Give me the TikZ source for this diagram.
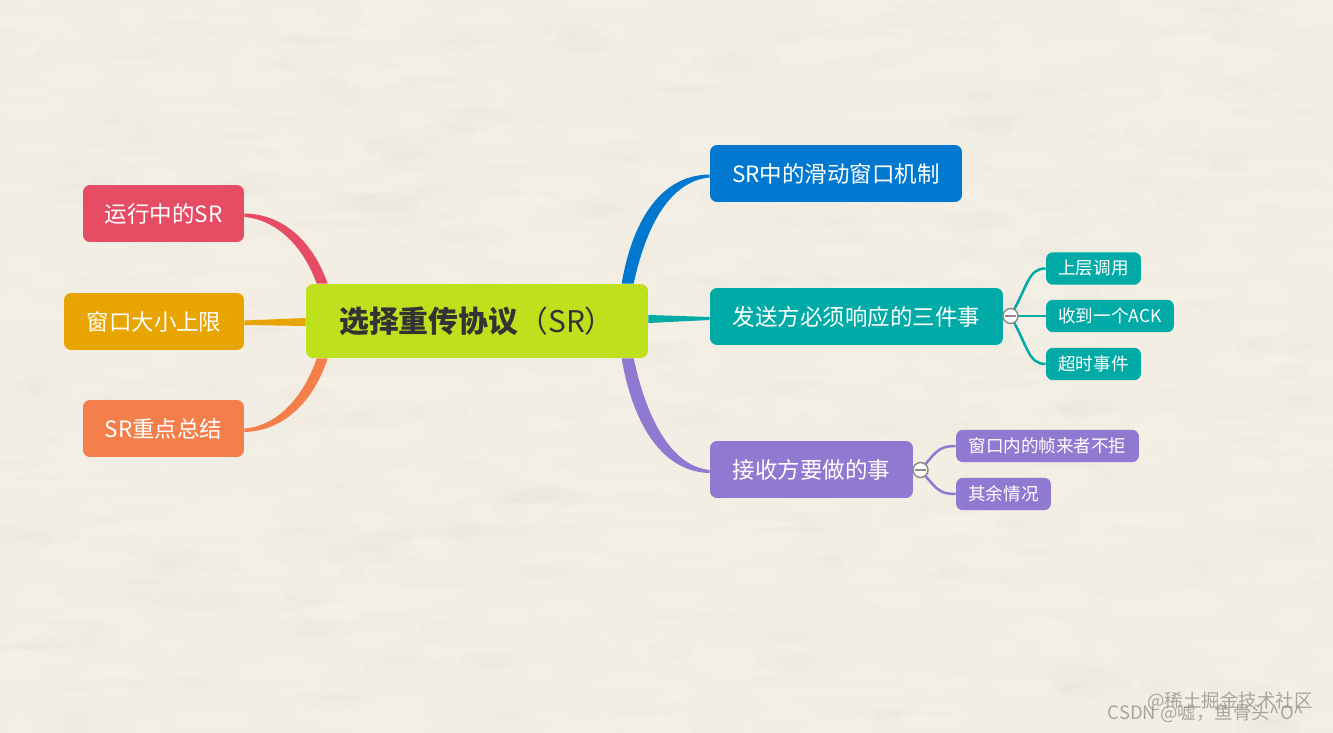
\documentclass[tikz,border=0pt]{standalone}
\usepackage{fontspec}
\setmainfont{Noto Sans CJK SC}
\usetikzlibrary{calc}
\definecolor{paper}{HTML}{F3EEE3}
\definecolor{rootgreen}{HTML}{BFE01C}
\definecolor{blueb}{HTML}{0078D0}
\definecolor{tealb}{HTML}{00AAA6}
\definecolor{purpleb}{HTML}{9079D0}
\definecolor{redb}{HTML}{E64D64}
\definecolor{amberb}{HTML}{E8A400}
\definecolor{orangeb}{HTML}{F47F4B}
\tikzset{
	box/.style={rounded corners=0.14cm, inner sep=0pt, text=white, minimum height=1.14cm},
	subbox/.style={rounded corners=0.14cm, inner sep=0pt, text=white, minimum height=0.65cm, font=\fontsize{10}{12}\selectfont},
	sublink/.style={line width=0.05cm},
	fold/.style={circle, draw=black!45, fill=white!90!paper, line width=0.03cm, inner sep=0pt, minimum size=0.3cm},
	wmark/.style={text=black!45, opacity=0.75, font=\fontsize{10.5}{12}\selectfont}
}
\begin{document}
\begin{tikzpicture}[x=0.02cm, y=-0.02cm]
	%%%%% START %%%%%
	\useasboundingbox (0, 0) rectangle (1333, 733);
	\fill[paper] (0, 0) rectangle (1333, 733);

	% paper grain
	\pgfmathsetseed{17}
	\foreach \i in {1,...,450} {
		\pgfmathsetmacro{\px}{random(0,1333)}
		\pgfmathsetmacro{\py}{random(0,733)}
		\pgfmathsetmacro{\pw}{random(10,45)}
		\pgfmathsetmacro{\ph}{random(3,12)}
		\fill[white, opacity=0.07] (\px, \py) ellipse ({\pw*0.02cm} and {\ph*0.02cm});
		\pgfmathsetmacro{\px}{random(0,1333)}
		\pgfmathsetmacro{\py}{random(0,733)}
		\fill[black!25!paper, opacity=0.025] (\px, \py) ellipse ({\pw*0.02cm} and {\ph*0.02cm});
	}

	\node[box, fill=rootgreen, minimum width=6.84cm, minimum height=1.48cm, text=black!80, font=\fontsize{17}{20}\selectfont] (root) at (477, 321) {\textbf{选择重传协议}（SR）};

	\node[box, fill=blueb, minimum width=5.04cm, font=\fontsize{12.8}{15}\selectfont] (window) at (836, 173.5) {SR中的滑动窗口机制};
	\node[box, fill=tealb, minimum width=5.86cm, font=\fontsize{12.8}{15}\selectfont] (sender) at (856.5, 316.5) {发送方必须响应的三件事};
	\node[box, fill=purpleb, minimum width=4.06cm, font=\fontsize{12.8}{15}\selectfont] (receiver) at (811.5, 469.5) {接收方要做的事};

	\node[box, fill=redb, minimum width=3.22cm, font=\fontsize{12.8}{15}\selectfont] (running) at (163.5, 213.5) {运行中的SR};
	\node[box, fill=amberb, minimum width=3.6cm, font=\fontsize{12.8}{15}\selectfont] (limit) at (154, 321.5) {窗口大小上限};
	\node[box, fill=orangeb, minimum width=3.22cm, font=\fontsize{12.8}{15}\selectfont] (summary) at (163.5, 428.5) {SR重点总结};

	\node[subbox, fill=tealb, minimum width=1.9cm] (upper) at (1093.5, 268.5) {上层调用};
	\node[subbox, fill=tealb, minimum width=2.56cm] (ack) at (1110, 316) {收到一个ACK};
	\node[subbox, fill=tealb, minimum width=1.9cm] (timeout) at (1093.5, 364) {超时事件};
	\node[subbox, fill=purpleb, minimum width=3.66cm] (inwin) at (1047.5, 446) {窗口内的帧来者不拒};
	\node[subbox, fill=purpleb, minimum width=1.9cm] (others) at (1003.5, 494) {其余情况};

	% tapered main branches
	\fill[blueb] ($(root.north west)+(316,0)$) .. controls (632, 222) and (660, 175) .. ($(window.west)+(0,1)$) -- ($(window.west)+(0,4)$) .. controls (670, 181) and (646, 226) .. ($(root.north west)+(328,0)$) -- cycle;
	\fill[tealb] ($(root.east)+(0,-6)$) -- ($(sender.west)+(0,0.5)$) -- ($(sender.west)+(0,3.5)$) -- ($(root.east)+(0,2)$) -- cycle;
	\fill[purpleb] ($(root.south west)+(316,0)$) .. controls (632, 420) and (660, 472) .. ($(receiver.west)+(0,3.5)$) -- ($(receiver.west)+(0,0.5)$) .. controls (670, 466) and (646, 416) .. ($(root.south west)+(328,0)$) -- cycle;

	\fill[redb] ($(root.north west)+(22,0)$) .. controls (314, 244) and (285, 214) .. ($(running.east)+(0,0)$) -- ($(running.east)+(0,3.5)$) .. controls (278, 220) and (304, 248) .. ($(root.north west)+(11,0)$) -- cycle;
	\fill[amberb] ($(root.west)+(0,-3)$) -- ($(limit.east)+(0,-1)$) -- ($(limit.east)+(0,3.5)$) -- ($(root.west)+(0,5)$) -- cycle;
	\fill[orangeb] ($(root.south west)+(22,0)$) .. controls (314, 400) and (285, 431) .. ($(summary.east)+(0,3.5)$) -- ($(summary.east)+(0,0)$) .. controls (278, 426) and (304, 396) .. ($(root.south west)+(11,0)$) -- cycle;

	% links to the small boxes
	\coordinate (senddot) at (1010.5, 316);
	\coordinate (recvdot) at (920.5, 470);
	\draw[sublink, tealb] (senddot) .. controls (1028, 286) and (1028, 268.5) .. (upper.west);
	\draw[sublink, tealb] (senddot) -- (ack.west);
	\draw[sublink, tealb] (senddot) .. controls (1028, 346) and (1028, 364) .. (timeout.west);
	\draw[sublink, purpleb] (recvdot) .. controls (936, 452) and (938, 446) .. (inwin.west);
	\draw[sublink, purpleb] (recvdot) .. controls (936, 488) and (938, 494) .. (others.west);

	\node[fold] (foldsend) at (senddot) {};
	\draw[black!45, line width=0.03cm] ($(foldsend.west)+(3,0)$) -- ($(foldsend.east)+(-3,0)$);
	\node[fold] (foldrecv) at (recvdot) {};
	\draw[black!45, line width=0.03cm] ($(foldrecv.west)+(3,0)$) -- ($(foldrecv.east)+(-3,0)$);

	\node[wmark] (juejin) at (1230, 701) {@稀土掘金技术社区};
	\node[wmark] (csdn) at (1206, 713) {CSDN @嘘，鱼骨头\textasciicircum O\textasciicircum};
	%%%%% END %%%%%
\end{tikzpicture}
\end{document}
